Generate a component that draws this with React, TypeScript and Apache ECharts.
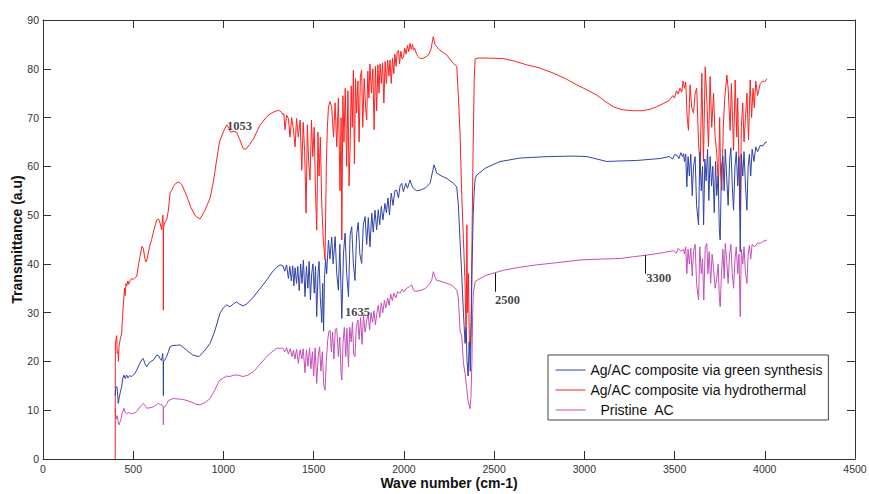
import React, { useEffect, useRef } from "react";
import * as echarts from "echarts";

// ---- data (wave number cm-1, transmittance a.u.) ----
const seriesNames = [
  "Ag/AC composite via green synthesis",
  "Ag/AC composite via hydrothermal",
  "Pristine  AC",
];

const greenSynthesis: [number, number][] = [
  [400, 13], [402, 14.5], [405, 14.8], [410, 14.8], [414, 13], [417, 11.4], [422, 12.5], [430, 14], [436, 14.8],
  [442, 16.5], [449, 17.2], [455, 16.5], [464, 17.2], [470, 16.6], [480, 17.1], [492, 16.9], [500, 17.2], [510, 17.6],
  [519, 18.2], [535, 19.5], [548, 20.4], [556, 20.6], [565, 19.5], [575, 18.9], [590, 19.8], [612, 20.3], [630, 21.3],
  [640, 21.2], [648, 20.6], [657, 20.2], [663, 21.6], [666, 20], [667, 13], [668, 20], [675, 20.3], [685, 21], [695, 22],
  [704, 23], [720, 23.3], [740, 23.3], [759, 23.4], [780, 22.8], [796, 22.3], [830, 21.3], [865, 21], [895, 22.2],
  [926, 23.7], [950, 26], [970, 28.5], [981, 29.9], [1000, 31], [1018, 31.6], [1036, 31.2], [1055, 31.8], [1073, 32.2],
  [1090, 31.7], [1110, 31.4], [1130, 31.8], [1166, 33.2], [1200, 34.8], [1240, 36.7], [1270, 38.3], [1295, 39.3],
  [1314, 39.8], [1330, 39.6], [1340, 38.5], [1350, 39.8], [1360, 37], [1368, 39.5], [1376, 36.5], [1384, 39.6],
  [1390, 35.5], [1397, 39.2], [1405, 36], [1412, 39.5], [1420, 34.5], [1428, 40], [1435, 36], [1443, 40.8], [1452, 33.3],
  [1460, 39.5], [1468, 35], [1475, 40.5], [1482, 32.6], [1489, 38], [1496, 40], [1503, 34], [1510, 39.5], [1517, 29.2],
  [1524, 38], [1530, 40.5], [1537, 33], [1545, 28], [1550, 36], [1555, 26.2], [1560, 37], [1566, 41], [1572, 38],
  [1582, 44.9], [1590, 41], [1600, 45.5], [1608, 40], [1619, 45.6], [1628, 38], [1637, 34.6], [1645, 44], [1656, 28.8],
  [1665, 42], [1674, 46.3], [1683, 38], [1693, 33.3], [1702, 46], [1711, 47.6], [1720, 40], [1729, 36.6], [1738, 46],
  [1747, 48.5], [1756, 42], [1766, 40.1], [1775, 48], [1785, 49.7], [1794, 44], [1803, 49.5], [1812, 43.5], [1822, 50.4],
  [1830, 46.5], [1840, 51], [1849, 47], [1858, 51.1], [1866, 48], [1875, 51.8], [1884, 49], [1895, 52.4], [1903, 50.5],
  [1912, 53.5], [1920, 50], [1930, 54.5], [1940, 52], [1950, 55], [1960, 55.1], [1970, 53.5], [1979, 56], [1988, 56.5],
  [1997, 54.8], [2010, 56.5], [2020, 55.5], [2034, 57.2], [2045, 56], [2053, 55.5], [2070, 55], [2090, 55.1],
  [2120, 55.6], [2145, 56.5], [2167, 60.3], [2182, 58.6], [2210, 58], [2238, 57.5], [2275, 56.5], [2293, 55.8],
  [2302, 52], [2311, 45], [2321, 37.4], [2330, 30], [2339, 23.7], [2345, 27], [2350, 20], [2356, 17], [2362, 24],
  [2368, 18], [2373, 28], [2378, 40], [2384, 50], [2390, 55], [2395, 57.5], [2404, 58.2], [2450, 59.6], [2533, 61],
  [2552, 61.1], [2644, 61.7], [2800, 62], [2940, 62.1], [3014, 62], [3124, 61], [3200, 61.1], [3290, 61.2],
  [3420, 61.6], [3470, 62], [3490, 61.5], [3500, 62.4], [3513, 62.3], [3525, 61.6], [3535, 62.8], [3545, 62], [3550, 62.6],
  [3555, 61], [3562, 62.5], [3568, 55.8], [3575, 62], [3582, 58], [3590, 62.5], [3598, 54], [3605, 60], [3614, 62],
  [3622, 52], [3633, 48], [3640, 62.8], [3648, 55], [3655, 60], [3661, 48], [3668, 61.5], [3675, 57], [3683, 63.5],
  [3690, 53], [3697, 62], [3705, 56], [3712, 60], [3720, 50.5], [3727, 61], [3734, 54], [3742, 58], [3748, 47],
  [3753, 44.9], [3760, 60], [3768, 62], [3775, 55], [3781, 63.5], [3790, 57], [3797, 52], [3805, 61], [3812, 63.8],
  [3820, 56], [3827, 51], [3835, 60], [3842, 63], [3850, 56], [3857, 62], [3864, 42.5], [3870, 62.5], [3878, 58],
  [3885, 63], [3893, 56], [3901, 51], [3908, 60], [3915, 62.5], [3922, 58], [3930, 63.5], [3940, 61], [3950, 64],
  [3960, 63], [3975, 64.3], [3990, 64.2], [4000, 64.8], [4012, 65],
];

const hydrothermal: [number, number][] = [
  [400, 0], [401, 24], [405, 24.5], [408, 25.3], [411, 21.7], [416, 22], [418, 20], [421, 23], [428, 24.5], [436, 25.8],
  [442, 30], [448, 33], [452, 35], [455, 33.5], [460, 36], [464, 35.5], [470, 36.5], [475, 35.8], [480, 36.4], [490, 37],
  [500, 36.8], [510, 37.2], [519, 37.4], [530, 40], [538, 41.5], [548, 43.6], [556, 43.2], [565, 41], [572, 40.4],
  [578, 41.2], [590, 43.5], [602, 45], [615, 47], [630, 49], [640, 49.2], [648, 48.5], [657, 47], [664, 50], [666, 48],
  [667, 30.5], [668, 47.5], [675, 48.5], [685, 49], [695, 51], [704, 54.5], [712, 55], [722, 55.8], [735, 56.5],
  [754, 56.8], [770, 56.2], [796, 54], [820, 51.5], [845, 49.8], [870, 49.2], [895, 50.8], [926, 53.5], [945, 57],
  [963, 61.5], [978, 65], [990, 66.2], [1005, 67.5], [1018, 68.5], [1030, 67.8], [1040, 67], [1055, 67.2], [1073, 67],
  [1090, 65.5], [1110, 63.6], [1125, 63.5], [1145, 64.5], [1166, 65.6], [1200, 68.3], [1240, 70.2], [1270, 71],
  [1304, 71.5], [1320, 71.2], [1330, 70.6], [1335, 70.8], [1341, 67.5], [1350, 70.5], [1360, 69.8], [1369, 66],
  [1378, 70], [1388, 67.5], [1397, 64], [1405, 69.8], [1415, 66], [1425, 69.5], [1434, 59.2], [1442, 69], [1450, 63],
  [1458, 50.4], [1465, 68.5], [1472, 61], [1480, 57.2], [1488, 69.5], [1495, 62], [1503, 68], [1510, 55], [1517, 46.9],
  [1524, 67], [1530, 58], [1537, 66], [1545, 52], [1554, 44.5], [1563, 40.8], [1570, 60], [1576, 68], [1582, 72.2],
  [1591, 73.3], [1600, 72], [1610, 66], [1619, 73], [1628, 64], [1637, 74], [1646, 55], [1652, 70], [1656, 44.9],
  [1662, 74.5], [1668, 65], [1675, 76], [1683, 60], [1690, 75.5], [1696, 56], [1702, 64], [1708, 76.5], [1714, 68],
  [1720, 79.7], [1726, 60.5], [1732, 78], [1738, 70.9], [1745, 77.5], [1752, 65], [1759, 78.5], [1766, 79.7],
  [1772, 68], [1780, 78], [1788, 72], [1794, 69.5], [1800, 79.5], [1806, 74], [1812, 81], [1820, 75], [1828, 80],
  [1835, 67.5], [1842, 80.5], [1849, 71.4], [1856, 80.8], [1862, 75], [1868, 81], [1875, 77], [1882, 81.2], [1889, 73],
  [1896, 81.5], [1903, 77], [1910, 81.8], [1917, 78.5], [1923, 81.8], [1930, 77], [1937, 82.2], [1944, 79], [1950, 83],
  [1957, 80.5], [1963, 83.5], [1970, 83.8], [1976, 81], [1983, 83.6], [1990, 82], [1997, 82.3], [2005, 84.2],
  [2012, 83], [2020, 84.8], [2027, 83.5], [2034, 85.2], [2041, 84], [2048, 85], [2053, 83.8], [2060, 84.2], [2070, 83],
  [2080, 82.5], [2090, 82.1], [2110, 82.2], [2136, 82.8], [2150, 84], [2163, 86.6], [2172, 85], [2182, 84.5],
  [2200, 83.8], [2238, 82.8], [2274, 81.1], [2293, 80.5], [2302, 74.3], [2311, 67], [2321, 53.8], [2330, 45],
  [2339, 36], [2345, 24], [2349, 48], [2353, 30], [2358, 38], [2363, 23], [2368, 22.5], [2373, 28], [2378, 47],
  [2383, 62], [2390, 78], [2395, 82], [2413, 82.2], [2450, 82.2], [2552, 82.1], [2620, 81.5], [2681, 80.8],
  [2750, 80.2], [2829, 79.1], [2900, 77.9], [2958, 76.7], [3014, 75.7], [3069, 74.6], [3120, 73.2], [3161, 72.2],
  [3210, 71.6], [3272, 71.4], [3320, 71.4], [3365, 71.7], [3400, 72.2], [3439, 72.9], [3470, 73.5], [3490, 74.5],
  [3500, 74], [3510, 75.5], [3520, 74.8], [3530, 76], [3540, 75.2], [3547, 77.5], [3555, 76], [3562, 77.3], [3570, 70],
  [3577, 67.4], [3586, 76.7], [3595, 72], [3605, 70.9], [3614, 75], [3623, 76], [3633, 64.7], [3642, 60], [3651, 79.1],
  [3660, 61], [3670, 80.4], [3679, 73.6], [3688, 64], [3697, 78.4], [3706, 68], [3716, 75], [3725, 66], [3734, 62.7],
  [3743, 55.8], [3750, 70], [3755, 58.6], [3762, 55.1], [3770, 68], [3778, 74], [3790, 78.7], [3797, 76], [3808, 67.4],
  [3815, 77], [3822, 69], [3827, 63.3], [3836, 77.7], [3845, 66], [3850, 74], [3857, 60], [3864, 51], [3870, 68],
  [3878, 73], [3885, 65], [3893, 70], [3901, 75], [3910, 65.4], [3919, 77.7], [3927, 70], [3935, 76], [3942, 72],
  [3950, 77.5], [3960, 74.5], [3975, 77], [3990, 77.5], [4000, 77.3], [4012, 78],
];

const pristineAC: [number, number][] = [
  [400, 10.4], [403, 8.5], [407, 8.2], [410, 8.9], [415, 8], [421, 7], [426, 7.5], [431, 8], [440, 9.5], [449, 10.4],
  [455, 9.6], [464, 9.3], [475, 9.5], [490, 9.3], [500, 9.3], [519, 9.7], [540, 10.8], [556, 11.4], [565, 11],
  [575, 10.4], [590, 10.5], [612, 10.7], [625, 11], [639, 11.4], [650, 11.2], [663, 11], [666, 10.8], [667, 7],
  [668, 10.6], [675, 10.7], [685, 11.2], [695, 12], [722, 12.4], [750, 12.3], [778, 12.2], [820, 11.7], [850, 11.2],
  [870, 11.1], [900, 11.6], [926, 12.4], [950, 14], [970, 15.5], [981, 16.2], [1000, 16.6], [1018, 17], [1035, 16.9],
  [1055, 17.2], [1080, 17.2], [1110, 16.9], [1135, 17.2], [1166, 17.9], [1200, 19.3], [1240, 21], [1270, 22],
  [1295, 22.7], [1314, 22.7], [1330, 22.7], [1340, 22], [1350, 22.8], [1360, 21.5], [1370, 22.6], [1380, 21],
  [1388, 22.3], [1396, 20.5], [1405, 22.5], [1415, 19.6], [1425, 22.4], [1434, 20.5], [1442, 22.6], [1452, 17.7],
  [1460, 22.4], [1468, 19], [1477, 22.8], [1485, 18.5], [1493, 22], [1500, 17], [1508, 22.8], [1517, 15.5], [1525, 21],
  [1533, 23], [1540, 18], [1548, 22], [1556, 15], [1563, 14.1], [1570, 20], [1578, 24.5], [1585, 26.2], [1591, 26.4],
  [1598, 22], [1605, 26], [1612, 20.5], [1620, 26.6], [1628, 26.8], [1637, 21], [1645, 25], [1651, 18], [1656, 16.2],
  [1663, 24], [1670, 27], [1678, 21], [1684, 26.8], [1693, 18.9], [1700, 27], [1708, 24], [1715, 28], [1722, 21.5],
  [1729, 21], [1736, 27], [1745, 28.5], [1752, 24.5], [1760, 29], [1768, 23.5], [1776, 29.5], [1785, 26], [1794, 28.5],
  [1802, 29.5], [1810, 26.5], [1818, 30], [1826, 28], [1834, 30.4], [1842, 27.5], [1849, 29.6], [1858, 31.5],
  [1866, 29], [1875, 32], [1883, 30], [1892, 32.5], [1900, 31], [1910, 33], [1918, 31.5], [1927, 33.8], [1936, 32.5],
  [1945, 34], [1955, 33], [1965, 34.3], [1979, 34], [1990, 34.8], [2000, 34.3], [2015, 35], [2030, 35.3], [2043, 35.7],
  [2053, 34.6], [2062, 34.4], [2090, 34.5], [2120, 35], [2145, 36], [2155, 36.8], [2163, 38.4], [2172, 37.4],
  [2182, 36.6], [2200, 36.5], [2238, 36], [2256, 35.8], [2275, 35.4], [2293, 34.6], [2302, 33], [2311, 26.4],
  [2321, 25], [2330, 19.6], [2339, 17.6], [2349, 14.1], [2355, 12], [2362, 11], [2367, 10.3], [2372, 13], [2377, 20],
  [2381, 30], [2385, 34], [2395, 36.4], [2450, 37.6], [2552, 38.7], [2640, 39.3], [2736, 39.8], [2860, 40.3],
  [2977, 40.8], [3100, 41], [3198, 41.1], [3280, 41.5], [3346, 41.8], [3420, 42.2], [3494, 42.7], [3510, 42.2],
  [3520, 43.2], [3535, 42.6], [3550, 43], [3555, 42], [3562, 43.5], [3568, 38], [3575, 43], [3582, 40], [3590, 43.2],
  [3598, 37.5], [3605, 42.5], [3614, 44], [3622, 36], [3633, 32.6], [3640, 43.5], [3648, 38], [3655, 41], [3662, 32.6],
  [3670, 43.5], [3679, 44.2], [3685, 38], [3692, 42.5], [3700, 36], [3708, 42], [3716, 39], [3725, 35], [3734, 37],
  [3742, 40], [3748, 33], [3753, 31.2], [3760, 38], [3768, 43], [3775, 37], [3781, 44.2], [3790, 40], [3797, 36],
  [3805, 42], [3812, 44], [3820, 38], [3827, 35], [3835, 41], [3842, 43.5], [3850, 38], [3857, 42], [3864, 29.2],
  [3870, 43], [3878, 40], [3885, 43.5], [3893, 38], [3901, 36], [3908, 42], [3915, 43.8], [3922, 41], [3930, 44],
  [3945, 43.5], [3960, 44.3], [3975, 44.2], [3990, 44.6], [4012, 44.9],
];

const annotationLabels = ["1053", "1635", "2500", "3300"];
const annotationX = [1020, 1674, 2505, 3343];
const annotationY = [68.3, 30.1, 32.6, 37.1];

const markerX = [2505, 3337];
const markerYLow = [34.3, 38];
const markerYHigh = [38.1, 41.8];

const colors = ["#3142a8", "#ff2020", "#c54fb8"];

export default function App() {
  const ref = useRef<HTMLDivElement>(null);

  useEffect(() => {
    document.body.style.margin = "0";
    if (!ref.current) return;
    const chart = echarts.init(ref.current, undefined, { renderer: "svg" });

    const axisLine = { show: true, onZero: false, lineStyle: { color: "#333", width: 1 } };
    const axisTick = { show: true, inside: true, length: 8, lineStyle: { color: "#333", width: 1 } };
    const labelStyle = {
      fontFamily: "Liberation Sans, Arial",
      fontSize: 10.5,
      color: "#333",
      formatter: (v: number) => String(v),
    };
    const nameStyle = { fontFamily: "Liberation Sans, Arial", fontSize: 14, fontWeight: "bold", color: "#111" };

    const dataSeries = [greenSynthesis, hydrothermal, pristineAC].map((d, i) => ({
      name: seriesNames[i],
      type: "line",
      data: d,
      symbol: "none",
      showSymbol: false,
      lineStyle: { color: colors[i], width: 1 },
      itemStyle: { color: colors[i] },
      z: 3 - i,
      silent: true,
    }));

    chart.setOption({
      animation: false,
      backgroundColor: "#fff",
      grid: {
        left: 43,
        right: 14,
        top: 20,
        bottom: 35,
        containLabel: false,
        outerBoundsMode: "none",
      },
      xAxis: [
        {
          type: "value",
          min: 0,
          max: 4500,
          interval: 500,
          position: "bottom",
          name: "Wave number (cm-1)",
          nameLocation: "middle",
          nameGap: 17,
          nameMoveOverlap: false,
          nameTextStyle: nameStyle,
          axisLine,
          axisTick,
          axisLabel: { ...labelStyle, margin: 4 },
          splitLine: { show: false },
        },
        {
          type: "value",
          min: 0,
          max: 4500,
          interval: 500,
          position: "top",
          axisLine,
          axisTick,
          axisLabel: { show: false },
          splitLine: { show: false },
        },
      ],
      yAxis: [
        {
          type: "value",
          min: 0,
          max: 90,
          interval: 10,
          position: "left",
          name: "Transmittance (a.u)",
          nameLocation: "middle",
          nameGap: 19,
          nameMoveOverlap: false,
          nameTextStyle: nameStyle,
          axisLine,
          axisTick,
          axisLabel: { ...labelStyle, margin: 4 },
          splitLine: { show: false },
        },
        {
          type: "value",
          min: 0,
          max: 90,
          interval: 10,
          position: "right",
          axisLine,
          axisTick,
          axisLabel: { show: false },
          splitLine: { show: false },
        },
      ],
      legend: {
        orient: "vertical",
        left: 548,
        top: 355,
        padding: [8, 6, 3, 7],
        itemGap: 6,
        itemWidth: 30,
        itemHeight: 14,
        itemStyle: { opacity: 0 },
        lineStyle: { width: 1 },
        backgroundColor: "#fff",
        borderColor: "#444",
        borderWidth: 1,
        borderRadius: 0,
        textStyle: { fontFamily: "Liberation Sans, Arial", fontSize: 14, color: "#111" },
        data: [
          seriesNames[0],
          seriesNames[1],
          { name: seriesNames[2], textStyle: { padding: [0, 0, 0, 10] } },
        ],
      },
      series: [
        ...dataSeries,
        {
          name: "annotations",
          type: "scatter",
          symbolSize: 0.1,
          itemStyle: { color: "transparent" },
          silent: true,
          z: 10,
          data: annotationLabels.map((t, i) => ({ name: t, value: [annotationX[i], annotationY[i]] })),
          label: {
            show: true,
            position: "right",
            distance: 0,
            formatter: "{b}",
            fontFamily: "Liberation Serif, Times New Roman",
            fontWeight: "bold",
            fontSize: 12.5,
            color: "#111",
          },
          markLine: {
            silent: true,
            symbol: ["none", "none"],
            label: { show: false },
            lineStyle: { color: "#111", width: 1, type: "solid" },
            data: markerX.map((x, i) => [
              { coord: [x, markerYLow[i]] },
              { coord: [x, markerYHigh[i]] },
            ]),
          },
        },
      ],
    });

    return () => chart.dispose();
  }, []);

  return <div ref={ref} style={{ width: 869, height: 494 }} />;
}
